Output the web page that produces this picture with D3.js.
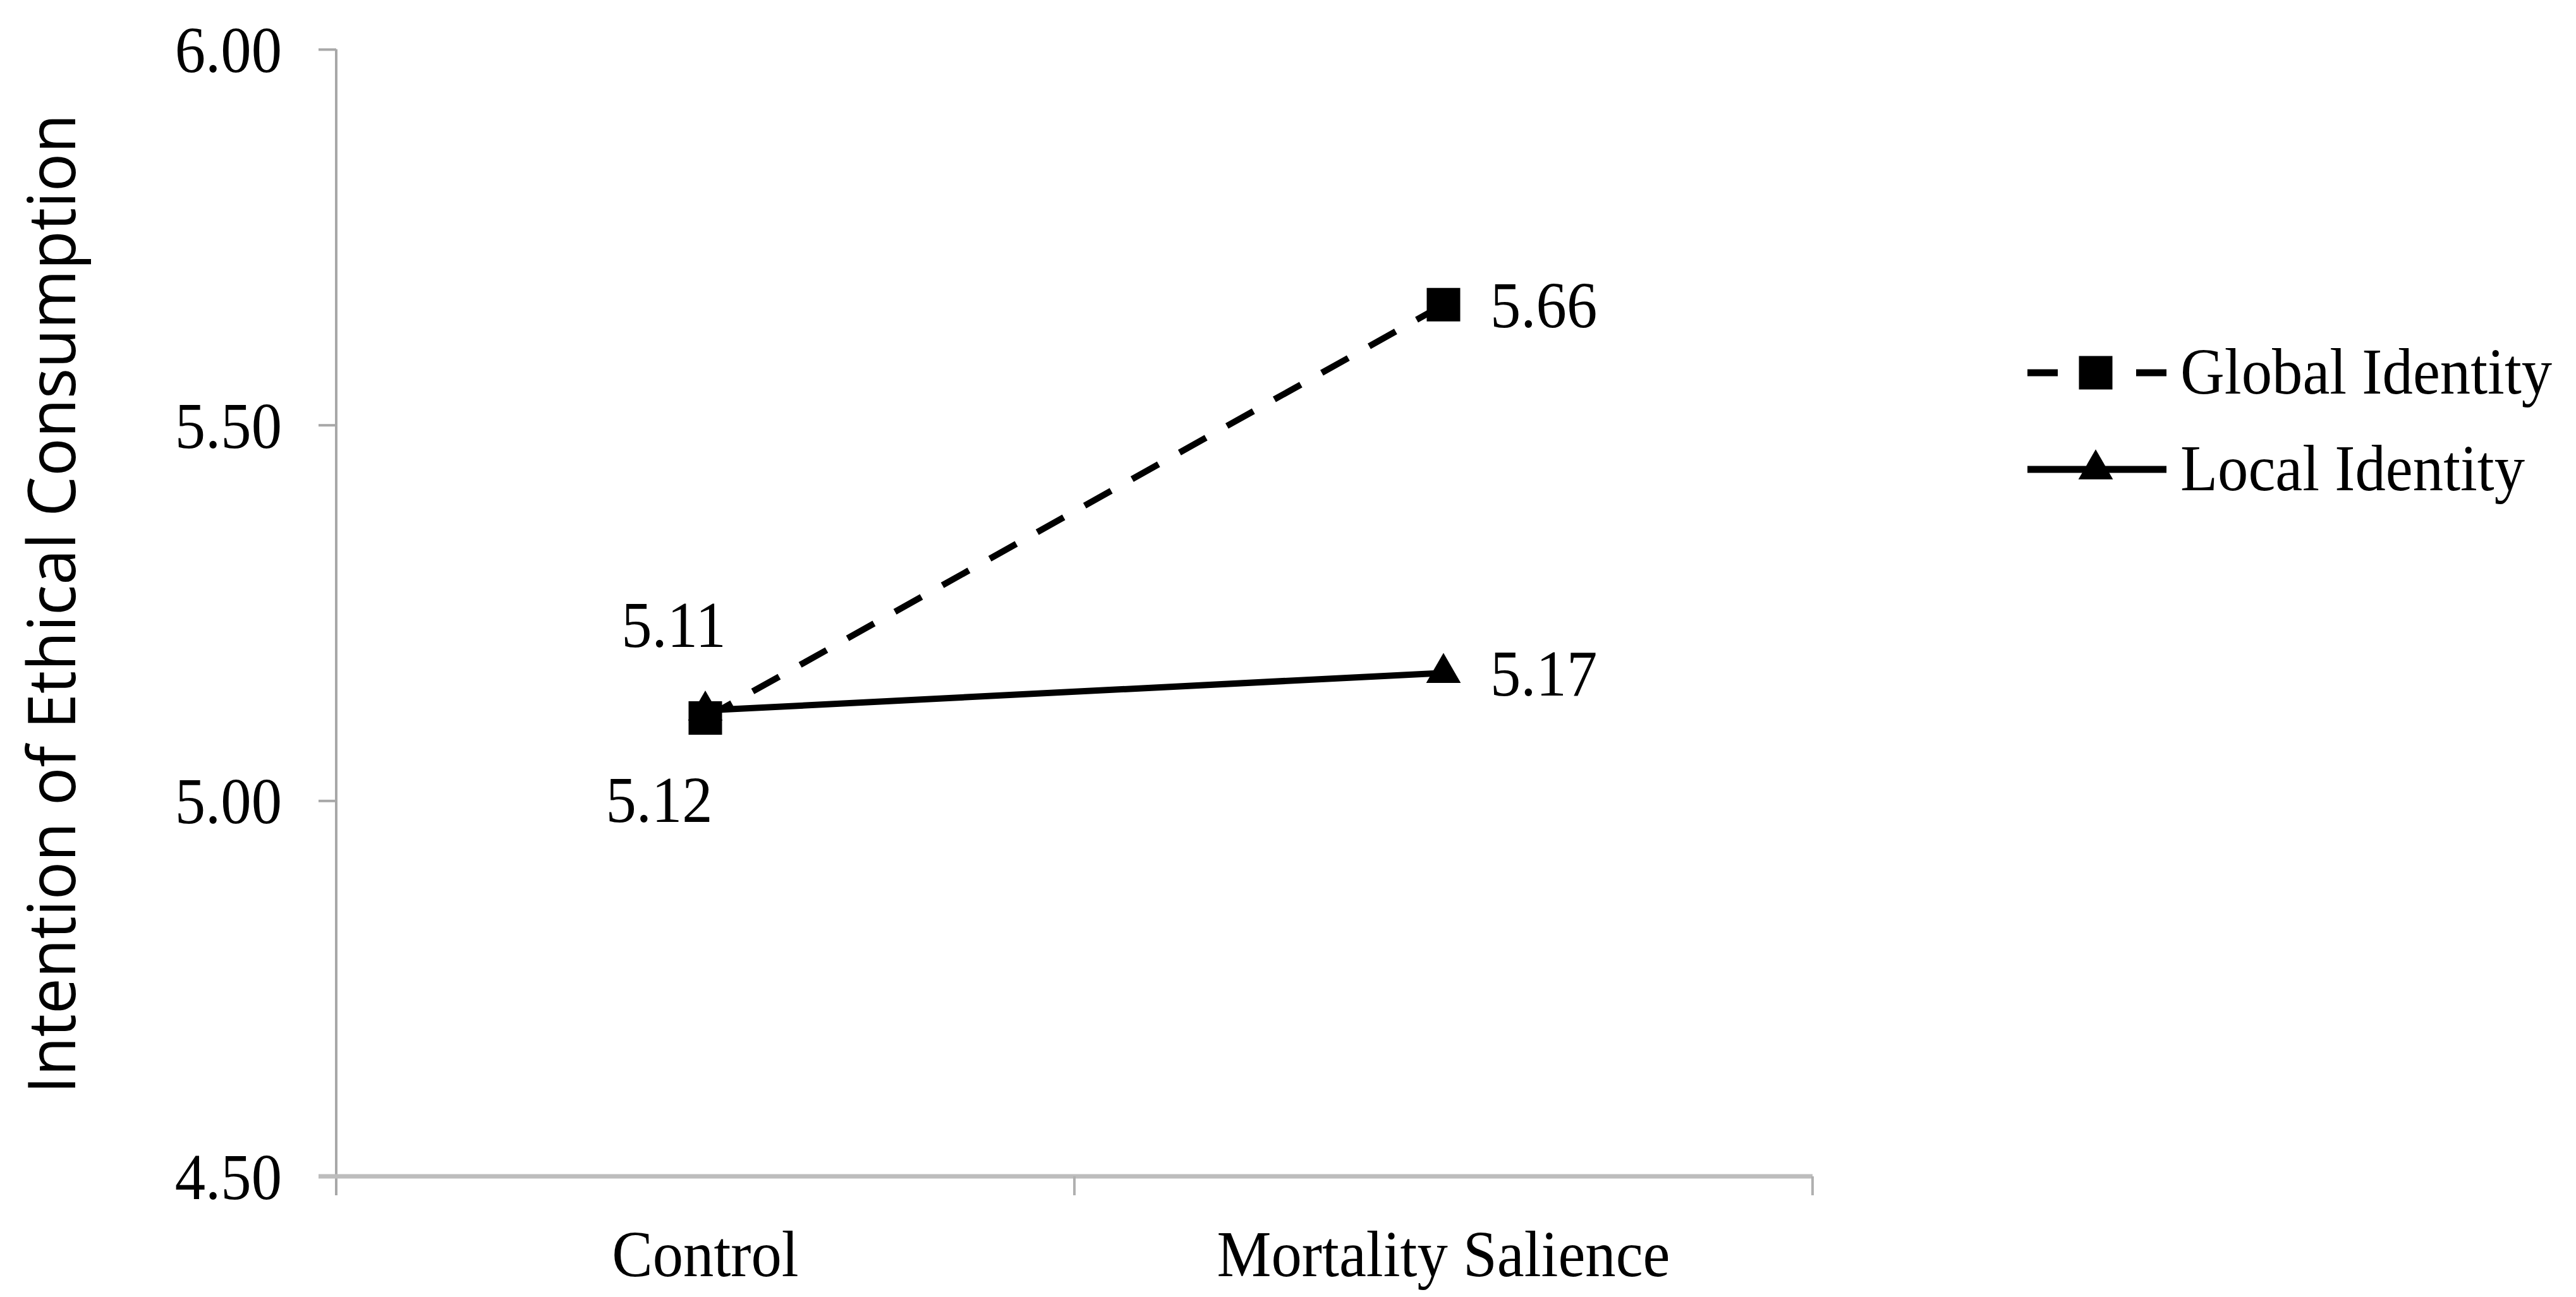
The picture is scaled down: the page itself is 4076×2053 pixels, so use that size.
<!DOCTYPE html>
<html>
<head>
<meta charset="utf-8">
<script src="https://cdn.jsdelivr.net/npm/d3@7"></script>
<style>
    body { margin: 0; background: #fff; }
    .serif { font-family: "Liberation Serif", "Times New Roman", serif; font-size: 104px; fill: #000; }
</style>
</head>
<body>
<div id="chart"></div>
<script>
(function () {
    // values
    const categories = ["Control", "Mortality Salience"];
    const seriesNames = ["Global Identity", "Local Identity"];
    const globalValues = [5.11, 5.66];
    const localValues = [5.12, 5.17];
    const yTicks = [4.5, 5.0, 5.5, 6.0];
    const yLabel = "Intention of Ethical Consumption";

    var width = 4076;
    var height = 2053;
    var margin = { top: 78, right: 1208, bottom: 191, left: 532 };

    // the source figure's serif text is a little narrow
    function squeeze(sel) {
        sel.each(function () {
            var t = d3.select(this);
            var x = +t.attr("x") || 0;
            var y = +t.attr("y") || 0;
            t.attr("x", 0).attr("y", 0)
                .attr("transform", `translate(${x},${y}) scale(0.93,1)`);
        });
    }

    var svg = d3.select("#chart")
        .append("svg")
        .attr("width", width)
        .attr("height", height);

    var xScale = d3.scaleBand()
        .domain(categories)
        .range([margin.left, width - margin.right])
        .padding(0);

    var yScale = d3.scaleLinear()
        .domain([4.5, 6.0])
        .range([height - margin.bottom, margin.top]);

    var xMid = d => xScale(d) + xScale.bandwidth() / 2;

    // y axis
    var yAxis = d3.axisLeft(yScale)
        .tickValues(yTicks)
        .tickFormat(d3.format(".2f"))
        .tickSize(28)
        .tickSizeOuter(0)
        .tickPadding(58);

    var yAxisEl = svg.append("g")
        .attr("transform", `translate(${margin.left},0)`)
        .call(yAxis);

    yAxisEl.select(".domain").remove();
    yAxisEl.selectAll(".tick line")
        .attr("stroke", "#a8a8a8")
        .attr("stroke-width", 4);
    yAxisEl.selectAll(".tick text")
        .attr("class", "serif")
        .attr("dy", "0.34em")
        .call(squeeze);

    // x axis line and boundary ticks
    var xAxisY = yScale(4.5);
    var boundaries = [xScale(categories[0])].concat(categories.map(c => xScale(c) + xScale.bandwidth()));

    svg.append("line")
        .attr("x1", margin.left)
        .attr("x2", margin.left)
        .attr("y1", yScale(6.0))
        .attr("y2", xAxisY + 30)
        .attr("stroke", "#a8a8a8")
        .attr("stroke-width", 4);

    svg.append("line")
        .attr("x1", margin.left - 28)
        .attr("x2", d3.max(boundaries))
        .attr("y1", xAxisY)
        .attr("y2", xAxisY)
        .attr("stroke", "#bdbdbd")
        .attr("stroke-width", 7);

    svg.append("g")
        .selectAll("line")
        .data(boundaries.slice(1))
        .enter()
        .append("line")
        .attr("x1", d => d)
        .attr("x2", d => d)
        .attr("y1", xAxisY)
        .attr("y2", xAxisY + 30)
        .attr("stroke", "#b0b0b0")
        .attr("stroke-width", 4);

    svg.append("g")
        .selectAll("text")
        .data(categories)
        .enter()
        .append("text")
        .attr("class", "serif")
        .attr("x", xMid)
        .attr("y", xAxisY + 158)
        .style("text-anchor", "middle")
        .text(d => d)
        .call(squeeze);

    // y label
    svg.append("text")
        .text(yLabel)
        .attr("transform", "rotate(-90)")
        .attr("x", -956)
        .attr("y", 119)
        .attr("textLength", 1551)
        .attr("lengthAdjust", "spacingAndGlyphs")
        .style("font-family", "'Open Sans', sans-serif")
        .style("font-size", "104px")
        .style("fill", "#000")
        .style("text-anchor", "middle");

    var line = d3.line()
        .x(d => xMid(d.cat))
        .y(d => yScale(d.value));

    var toPoints = vals => categories.map((c, i) => ({ cat: c, value: vals[i] }));
    var localPts = toPoints(localValues);
    var globalPts = toPoints(globalValues);

    var square = d3.symbol().type(d3.symbolSquare).size(53 * 53);
    var triangle = d3.symbol().type(d3.symbolTriangle).size(1300);

    // local identity (solid, triangles)
    svg.append("path")
        .datum(localPts)
        .attr("d", line)
        .attr("fill", "none")
        .attr("stroke", "#000")
        .attr("stroke-width", 10);

    svg.append("g")
        .selectAll("path")
        .data(localPts)
        .enter()
        .append("path")
        .attr("d", triangle)
        .attr("transform", d => `translate(${xMid(d.cat)},${yScale(d.value)})`)
        .attr("fill", "#000");

    // global identity (dashed, squares)
    svg.append("path")
        .datum(globalPts)
        .attr("d", line)
        .attr("fill", "none")
        .attr("stroke", "#000")
        .attr("stroke-width", 10)
        .attr("stroke-dasharray", "48 38");

    svg.append("g")
        .selectAll("path")
        .data(globalPts)
        .enter()
        .append("path")
        .attr("d", square)
        .attr("transform", d => `translate(${xMid(d.cat)},${yScale(d.value)})`)
        .attr("fill", "#000");

    // value labels: right of the point for the second category,
    // above (global) / below (local) for the first one
    function labelPos(d, i, isGlobal) {
        if (i == 1) return { x: xMid(d.cat) + 74, y: yScale(d.value) + 36, anchor: "start" };
        if (isGlobal) return { x: xMid(d.cat) - 50, y: yScale(d.value) - 113, anchor: "middle" };
        return { x: xMid(d.cat) - 73, y: yScale(d.value) + 176, anchor: "middle" };
    }

    [[globalPts, true], [localPts, false]].forEach(([pts, isGlobal]) => {
        svg.append("g")
            .selectAll("text")
            .data(pts)
            .enter()
            .append("text")
            .attr("class", "serif")
            .attr("x", (d, i) => labelPos(d, i, isGlobal).x)
            .attr("y", (d, i) => labelPos(d, i, isGlobal).y)
            .style("text-anchor", (d, i) => labelPos(d, i, isGlobal).anchor)
            .text(d => d.value.toFixed(2))
            .call(squeeze);
    });

    // legend
    var legend = svg.append("g")
        .attr("transform", "translate(3208,590)");

    var legendRows = legend.selectAll("g")
        .data(seriesNames)
        .enter()
        .append("g")
        .attr("transform", (d, i) => `translate(0,${i * 153})`);

    legendRows.append("line")
        .attr("x1", 0)
        .attr("x2", 220)
        .attr("stroke", "#000")
        .attr("stroke-width", 11)
        .attr("stroke-dasharray", (d, i) => i == 0 ? "48 38" : null);

    legendRows.append("path")
        .attr("d", (d, i) => i == 0 ? square() : triangle())
        .attr("transform", "translate(108,0)")
        .attr("fill", "#000");

    legendRows.append("text")
        .attr("class", "serif")
        .attr("x", 242)
        .attr("y", 33)
        .text(d => d)
        .call(squeeze);
})();
</script>
</body>
</html>
